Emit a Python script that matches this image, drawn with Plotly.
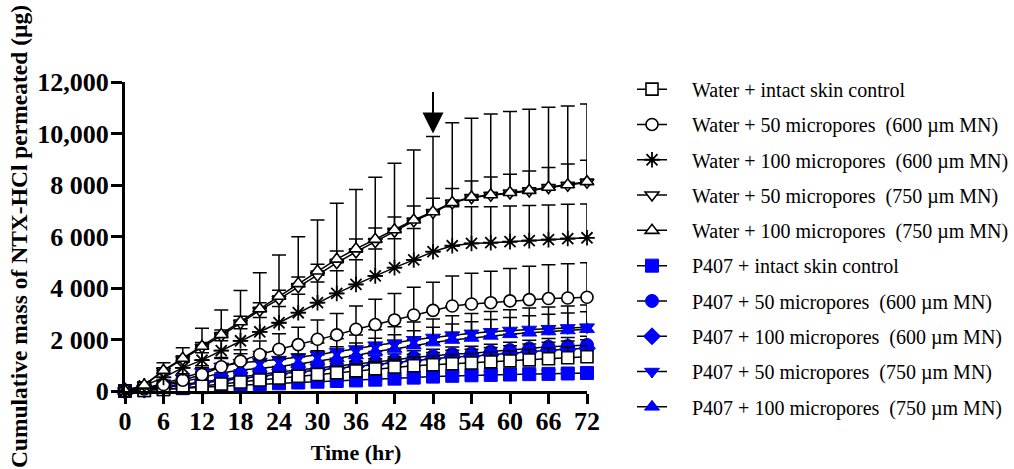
import plotly.graph_objects as go

time_hr = [0, 3, 6, 9, 12, 15, 18, 21, 24, 27, 30, 33, 36, 39, 42, 45, 48, 51, 54, 57, 60, 63, 66, 69, 72]

series_names = [
    "Water + intact skin control",
    "Water + 50 micropores \u00a0(600 \u00b5m MN)",
    "Water + 100 micropores \u00a0(600 \u00b5m MN)",
    "Water + 50 micropores \u00a0(750 \u00b5m MN)",
    "Water + 100 micropores \u00a0(750 \u00b5m MN)",
    "P407 + intact skin control",
    "P407 + 50 micropores \u00a0(600 \u00b5m MN)",
    "P407 + 100 micropores \u00a0(600 \u00b5m MN)",
    "P407 + 50 micropores \u00a0(750 \u00b5m MN)",
    "P407 + 100 micropores \u00a0(750 \u00b5m MN)",
]

water_intact = [0, 20, 60, 120, 190, 270, 350, 430, 500, 570, 640, 710, 780, 860, 930, 980, 1020, 1060, 1090, 1130, 1170, 1210, 1250, 1290, 1330]
water_intact_sd = [0, 10, 30, 50, 80, 100, 130, 150, 180, 200, 230, 250, 270, 290, 310, 330, 350, 360, 370, 380, 390, 400, 410, 420, 430]

water_50_600 = [0, 80, 250, 420, 640, 940, 1160, 1420, 1620, 1800, 2010, 2180, 2400, 2580, 2760, 2950, 3130, 3300, 3380, 3430, 3500, 3550, 3590, 3610, 3640]
water_50_600_sd = [0, 40, 110, 180, 260, 360, 440, 520, 600, 680, 750, 830, 900, 980, 1030, 1080, 1090, 1170, 1190, 1220, 1260, 1290, 1310, 1330, 1340]

water_100_600 = [0, 200, 530, 900, 1200, 1570, 1950, 2300, 2650, 3040, 3430, 3790, 4140, 4470, 4790, 5090, 5410, 5640, 5730, 5760, 5800, 5840, 5880, 5920, 5950]
water_100_600_sd = [0, 50, 140, 220, 290, 380, 470, 550, 630, 720, 800, 880, 960, 1040, 1120, 1220, 1450, 1520, 1430, 1400, 1380, 1360, 1340, 1330, 1310]

water_50_750 = [0, 230, 780, 1230, 1700, 2150, 2640, 3130, 3570, 4050, 4500, 4980, 5400, 5800, 6200, 6600, 6930, 7300, 7510, 7600, 7690, 7770, 7900, 7990, 8110]
water_50_750_sd = [0, 30, 90, 130, 180, 220, 260, 300, 340, 380, 420, 460, 500, 530, 560, 580, 560, 560, 650, 710, 730, 770, 780, 830, 850]

water_100_750 = [0, 230, 800, 1270, 1740, 2190, 2690, 3190, 3680, 4170, 4660, 5120, 5520, 5890, 6260, 6640, 6960, 7320, 7530, 7620, 7710, 7790, 7910, 8010, 8130]
water_100_750_sd = [0, 120, 300, 410, 700, 960, 1210, 1400, 1600, 1820, 1980, 2170, 2310, 2410, 2580, 2720, 2920, 3100, 3060, 3140, 3140, 3150, 3110, 3060, 3020]

p407_intact = [0, 30, 70, 110, 150, 190, 230, 270, 300, 330, 360, 390, 410, 440, 480, 520, 560, 590, 610, 625, 640, 655, 665, 680, 700]
p407_intact_sd = [0, 10, 20, 30, 40, 50, 60, 70, 80, 85, 90, 95, 100, 105, 110, 115, 120, 125, 130, 135, 140, 145, 150, 155, 160]

p407_50_600 = [0, 60, 160, 260, 360, 460, 560, 650, 740, 820, 900, 980, 1050, 1140, 1200, 1310, 1360, 1440, 1460, 1530, 1590, 1660, 1720, 1750, 1790]
p407_50_600_sd = [0, 20, 50, 80, 100, 120, 140, 160, 180, 190, 200, 210, 220, 230, 240, 250, 260, 270, 280, 290, 300, 310, 320, 330, 340]

p407_100_600 = [0, 50, 140, 230, 320, 410, 500, 580, 660, 740, 810, 880, 950, 1030, 1100, 1190, 1250, 1320, 1350, 1410, 1470, 1530, 1580, 1620, 1660]
p407_100_600_sd = [0, 20, 40, 60, 80, 100, 120, 140, 160, 180, 190, 200, 210, 220, 230, 240, 250, 260, 270, 280, 290, 300, 310, 320, 330]

p407_50_750 = [0, 100, 300, 500, 740, 960, 1100, 1150, 1220, 1320, 1400, 1530, 1630, 1780, 1860, 1990, 2080, 2170, 2240, 2300, 2350, 2390, 2420, 2450, 2480]
p407_50_750_sd = [0, 40, 110, 170, 240, 300, 350, 380, 400, 430, 460, 500, 540, 600, 640, 690, 720, 750, 770, 790, 810, 830, 840, 850, 860]

p407_100_750 = [0, 60, 200, 350, 520, 700, 820, 880, 950, 1050, 1150, 1270, 1380, 1530, 1630, 1760, 1880, 1980, 2060, 2140, 2200, 2260, 2310, 2350, 2400]
p407_100_750_sd = [0, 30, 90, 140, 200, 250, 290, 320, 350, 380, 410, 450, 480, 520, 550, 580, 600, 620, 630, 640, 650, 660, 670, 675, 680]

y_tick_vals = [0, 2000, 4000, 6000, 8000, 10000, 12000]
y_tick_text = ["0", "2 000", "4 000", "6 000", "8 000", "10,000", "12,000"]
x_tick_vals = [0, 6, 12, 18, 24, 30, 36, 42, 48, 54, 60, 66, 72]

values = [water_intact, water_50_600, water_100_600, water_50_750, water_100_750,
          p407_intact, p407_50_600, p407_100_600, p407_50_750, p407_100_750]
sds = [water_intact_sd, water_50_600_sd, water_100_600_sd, water_50_750_sd, water_100_750_sd,
       p407_intact_sd, p407_50_600_sd, p407_100_600_sd, p407_50_750_sd, p407_100_750_sd]
symbols = ["square", "circle", "asterisk-open", "triangle-down", "triangle-up",
           "square", "circle", "diamond", "triangle-down", "triangle-up"]
BLUE = "#0000FF"
SERIF = "Liberation Serif, Times New Roman, serif"
PAD = "\u00a0\u00a0\u00a0\u00a0"

fig = go.Figure()
# blue (P407) series underneath, water (open) series on top
order = [5, 6, 7, 8, 9, 0, 1, 2, 3, 4]
for i in order:
    is_blue = i >= 5
    if is_blue:
        marker = dict(symbol=symbols[i], size=13, color=BLUE, line=dict(color=BLUE, width=1))
    elif symbols[i] == "asterisk-open":
        marker = dict(symbol=symbols[i], size=13, color="black", line=dict(color="black", width=1.8))
    else:
        marker = dict(symbol=symbols[i], size=12, color="white", line=dict(color="black", width=1.6))
    fig.add_trace(go.Scatter(
        x=time_hr, y=values[i], name=PAD + series_names[i],
        mode="lines+markers",
        line=dict(color="black", width=1.5),
        marker=marker,
        error_y=dict(type="data", array=sds[i], arrayminus=[0] * len(sds[i]), symmetric=False,
                     color="black", thickness=1.5, width=7),
        cliponaxis=False,
        legendgroup=f"g{i}", legendrank=i + 1,
    ))

fig.add_annotation(x=48, y=10000, xref="x", yref="y", text="", showarrow=True,
                   ax=0, ay=-43, arrowhead=2, arrowsize=2.1, arrowwidth=2, arrowcolor="black",
                   standoff=0)

fig.update_layout(
    width=1014, height=469, autosize=False,
    margin=dict(l=125, r=427, t=82, b=78, autoexpand=False),
    paper_bgcolor="white", plot_bgcolor="white",
    font=dict(family=SERIF, color="black"),
    showlegend=True,
    legend=dict(x=1.0974, xanchor="left", y=1.04, yanchor="top",
                font=dict(family=SERIF, size=20, color="black"),
                tracegroupgap=6.3, itemwidth=30, bgcolor="rgba(0,0,0,0)",
                maxheight=1.0),
    xaxis=dict(range=[0, 72], tickvals=x_tick_vals, showline=True, linecolor="black", linewidth=3,
               ticks="outside", ticklen=10, tickwidth=2.5, tickcolor="black",
               showgrid=False, zeroline=False, automargin=False, ticklabelstandoff=-5,
               tickfont=dict(family=SERIF, size=26, color="black", weight="bold"),
               title=dict(text="Time (hr)", font=dict(family=SERIF, size=22, color="black", weight="bold"),
                          standoff=10)),
    yaxis=dict(range=[0, 12000], tickvals=y_tick_vals, ticktext=y_tick_text, showline=True,
               linecolor="black", linewidth=3, ticks="outside", ticklen=11, tickwidth=2.5,
               tickcolor="black", showgrid=False, zeroline=False, automargin=False,
               ticklabelstandoff=-3,
               tickfont=dict(family=SERIF, size=26, color="black", weight="bold"),
               title=dict(text="Cumulative mass of NTX-HCl permeated (\u00b5g)",
                          font=dict(family=SERIF, size=23.5, color="black", weight="bold"),
                          standoff=4)),
)

fig.write_html("out.html", config={"displayModeBar": False})
